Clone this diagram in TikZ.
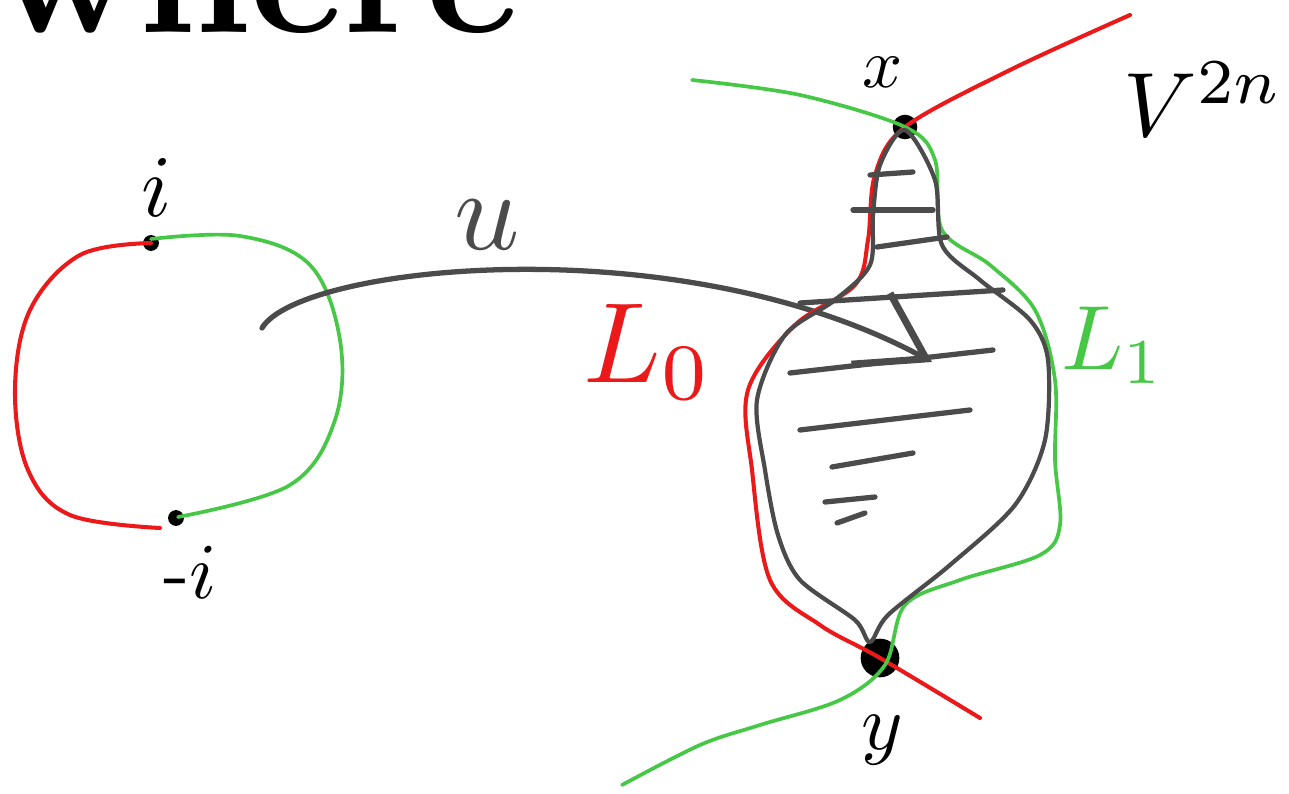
\documentclass[tikz,border=0pt]{standalone}
\usepackage{tikz}
\usepackage{graphicx}
\usetikzlibrary{arrows.meta}
\definecolor{penred}{RGB}{235,25,25}
\definecolor{pengreen}{RGB}{70,200,70}
\definecolor{pengray}{RGB}{75,75,75}
\tikzset{
  redpen/.style={draw=penred,line width=2.3pt,line cap=round,line join=round},
  greenpen/.style={draw=pengreen,line width=2.1pt,line cap=round,line join=round},
  graypen/.style={draw=pengray,line width=2.4pt,line cap=round,line join=round},
  hatch/.style={draw=pengray,line width=3pt,line cap=round},
  pt/.style={circle,fill=black,inner sep=0pt,minimum size=#1},
  lbl/.style={inner sep=0pt,text=black}
}
\begin{document}
\begin{tikzpicture}[x=0.02cm,y=-0.02cm]
\useasboundingbox (0,0) rectangle (1289,794);
\fill[white] (0,0) rectangle (1289,794);
\begin{scope}
\clip (0,0) rectangle (1289,794);
\node[lbl,anchor=base west] (where) at (-8,33) {\scalebox{10}{\bfseries where}};
\end{scope}

% left circle
\node[pt=9pt] (pi) at (151,243) {};
\node[pt=9pt] (mi) at (176,518) {};
\draw[redpen] plot[smooth,tension=0.6] coordinates {(151,243) (80,255) (30,310) (15,390) (28,470) (70,515) (160,528)};
\draw[greenpen] plot[smooth,tension=0.6] coordinates {(151,239) (240,236) (310,265) (340,340) (335,420) (290,485) (178,517)};
\node[lbl] (ilab) at (157,188) {\scalebox{5}{$i$}};
\node[lbl] (milab) at (190,572) {\scalebox{4.5}{-$i$}};

% map u
\coordinate (us) at (262,328);
\coordinate (ue) at (932,362);
\draw[graypen,line width=3pt,-{Straight Barb[length=36pt,width=46pt,line width=4pt]}] (us) .. controls (300,265) and (680,225) .. (ue);
\node[lbl,text=pengray] (ulab) at (487,225) {\scalebox{6.5}{$u$}};

% Lagrangians
\node[pt=14pt] (X) at (905,127) {};
\node[pt=22pt] (Y) at (880,658) {};
\draw[redpen] plot[smooth,tension=0.55] coordinates {(1130,15) (1010,70) (905,127) (875,175) (868,240) (855,285) (795,325) (748,390) (752,470) (770,580) (820,625) (880,658) (980,718)};
\draw[greenpen] plot[smooth,tension=0.55] coordinates {(692,80) (800,95) (905,127) (935,160) (942,230) (990,265) (1035,310) (1055,380) (1055,460) (1060,525) (1040,555) (960,580) (905,605) (885,665) (840,700) (760,725) (700,745) (622,785)};
% gray region
\draw[graypen] plot[smooth cycle,tension=0.5] coordinates {(905,130) (880,165) (873,215) (870,265) (835,300) (785,335) (757,400) (765,470) (778,535) (800,580) (855,620) (870,642) (888,615) (950,565) (1015,505) (1045,440) (1048,360) (1030,320) (980,280) (942,245) (935,180)};
\foreach \a/\b/\c/\d in {870/175/913/172, 853/210/933/210, 877/247/947/237, 800/303/1003/290, 790/373/993/350, 800/430/970/410, 832/467/913/453, 825/502/875/497, 837/523/865/513}
  \draw[hatch] (\a,\b) -- (\c,\d);

\node[lbl] (xlab) at (883,72) {\scalebox{4}{$x$}};
\node[lbl] (ylab) at (882,740) {\scalebox{4.5}{$y$}};
\node[lbl,text=penred] (L0) at (648,352) {\scalebox{6.5}{$L_0$}};
\node[lbl,text=pengreen] (L1) at (1113,345) {\scalebox{5.2}{$L_1$}};
\node[lbl,anchor=north east] (V) at (1284,62) {\scalebox{5.2}{$V^{2n}$}};
\end{tikzpicture}
\end{document}
